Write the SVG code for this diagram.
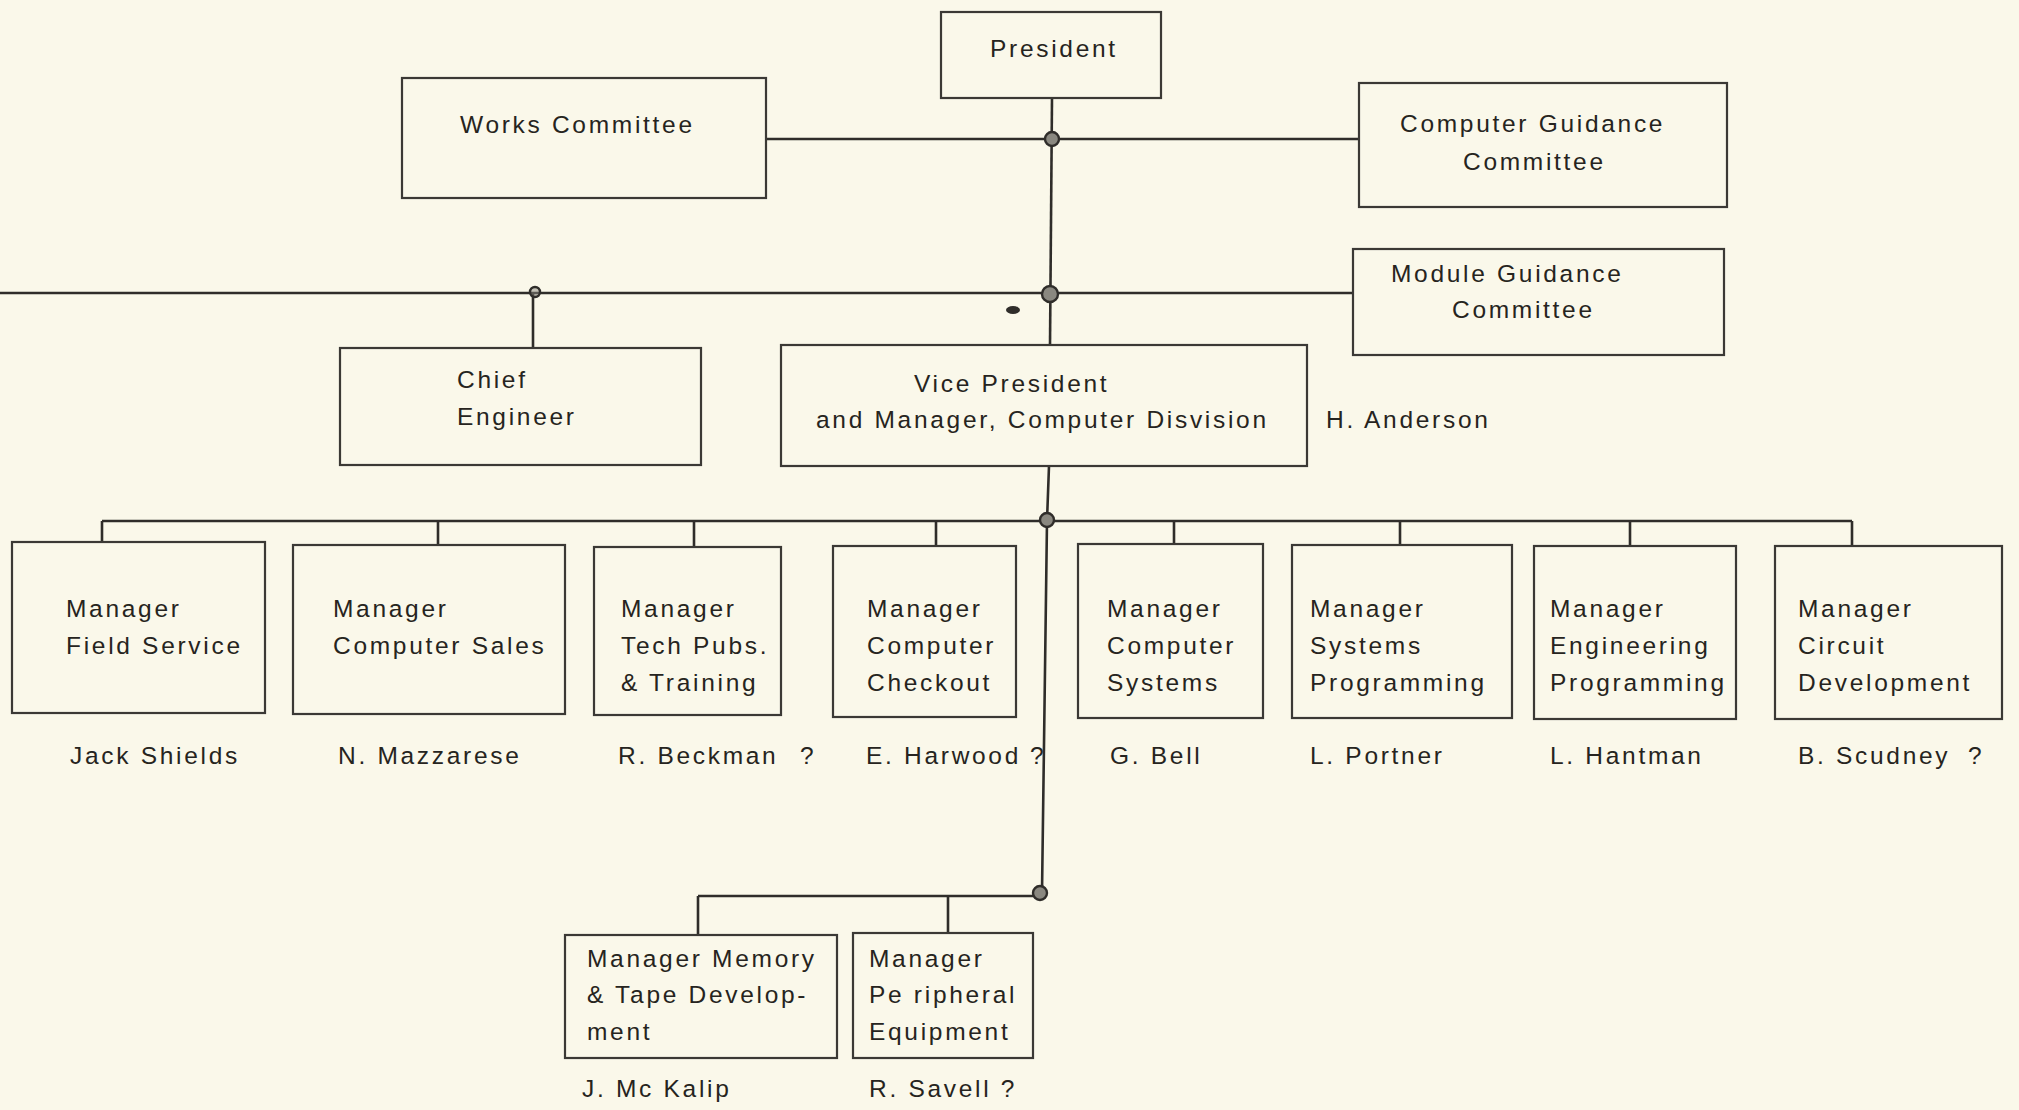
<svg xmlns="http://www.w3.org/2000/svg" width="2019" height="1110" viewBox="0 0 2019 1110">
<style>
.bg{fill:#faf8ea}
.box{fill:none;stroke:#3b3935;stroke-width:2.2}
.ln{fill:none;stroke:#2f2d2a;stroke-width:2.6}
.dot{fill:#8a8880;stroke:#2f2d2a;stroke-width:2.4}
text{font-family:"Liberation Sans",Arial,sans-serif;font-size:24.5px;letter-spacing:2.7px;fill:#262420}
</style>
<rect class="bg" x="0" y="0" width="2019" height="1110"/>
<g id="connectors">
<polyline class="ln" points="1052,98 1050,346"/>
<line class="ln" x1="766" y1="139" x2="1358" y2="139"/>
<line class="ln" x1="0" y1="293" x2="1352" y2="293"/>
<line class="ln" x1="533" y1="293" x2="533" y2="348"/>
<polyline class="ln" points="1049,466 1047,521 1042,893"/>
<line class="ln" x1="102" y1="521" x2="1852" y2="521"/>
<line class="ln" x1="102" y1="521" x2="102" y2="542"/>
<line class="ln" x1="438" y1="521" x2="438" y2="545"/>
<line class="ln" x1="694" y1="521" x2="694" y2="547"/>
<line class="ln" x1="936" y1="521" x2="936" y2="546"/>
<line class="ln" x1="1174" y1="521" x2="1174" y2="544"/>
<line class="ln" x1="1400" y1="521" x2="1400" y2="545"/>
<line class="ln" x1="1630" y1="521" x2="1630" y2="546"/>
<line class="ln" x1="1852" y1="521" x2="1852" y2="546"/>
<line class="ln" x1="698" y1="896" x2="1042" y2="896"/>
<line class="ln" x1="698" y1="896" x2="698" y2="935"/>
<line class="ln" x1="948" y1="896" x2="948" y2="933"/>
<circle class="dot" cx="1052" cy="139" r="7"/>
<circle class="dot" cx="1050" cy="294" r="8"/>
<circle class="dot" cx="535" cy="292" r="5" fill-opacity="0.5"/>
<circle class="dot" cx="1047" cy="520" r="7"/>
<circle class="dot" cx="1040" cy="893" r="7"/>
<ellipse cx="1013" cy="310" rx="7" ry="4" fill="#2f2d2a"/>
</g>
<g id="president"><rect class="box" x="941" y="12" width="220" height="86"/><text x="990" y="57">President</text></g>
<g id="works-committee"><rect class="box" x="402" y="78" width="364" height="120"/><text x="460" y="133">Works Committee</text></g>
<g id="computer-guidance"><rect class="box" x="1359" y="83" width="368" height="124"/><text x="1400" y="132">Computer Guidance</text><text x="1463" y="170">Committee</text></g>
<g id="module-guidance"><rect class="box" x="1353" y="249" width="371" height="106"/><text x="1391" y="282">Module Guidance</text><text x="1452" y="318">Committee</text></g>
<g id="chief-engineer"><rect class="box" x="340" y="348" width="361" height="117"/><text x="457" y="388">Chief</text><text x="457" y="425">Engineer</text></g>
<g id="vice-president"><rect class="box" x="781" y="345" width="526" height="121"/><text x="914" y="392">Vice  President</text><text x="816" y="428">and Manager, Computer Disvision</text></g>
<g id="h-anderson"><text x="1326" y="428">H. Anderson</text></g>
<g id="field-service"><rect class="box" x="12" y="542" width="253" height="171"/><text x="66" y="617">Manager</text><text x="66" y="654">Field Service</text><text x="70" y="764">Jack Shields</text></g>
<g id="computer-sales"><rect class="box" x="293" y="545" width="272" height="169"/><text x="333" y="617">Manager</text><text x="333" y="654">Computer Sales</text><text x="338" y="764">N. Mazzarese</text></g>
<g id="tech-pubs"><rect class="box" x="594" y="547" width="187" height="168"/><text x="621" y="617">Manager</text><text x="621" y="654">Tech Pubs.</text><text x="621" y="691">&amp; Training</text><text x="618" y="764">R. Beckman<tspan x="800">?</tspan></text></g>
<g id="computer-checkout"><rect class="box" x="833" y="546" width="183" height="171"/><text x="867" y="617">Manager</text><text x="867" y="654">Computer</text><text x="867" y="691">Checkout</text><text x="866" y="764">E. Harwood<tspan x="1030">?</tspan></text></g>
<g id="computer-systems"><rect class="box" x="1078" y="544" width="185" height="174"/><text x="1107" y="617">Manager</text><text x="1107" y="654">Computer</text><text x="1107" y="691">Systems</text><text x="1110" y="764">G. Bell</text></g>
<g id="systems-programming"><rect class="box" x="1292" y="545" width="220" height="173"/><text x="1310" y="617">Manager</text><text x="1310" y="654">Systems</text><text x="1310" y="691">Programming</text><text x="1310" y="764">L. Portner</text></g>
<g id="engineering-programming"><rect class="box" x="1534" y="546" width="202" height="173"/><text x="1550" y="617">Manager</text><text x="1550" y="654">Engineering</text><text x="1550" y="691">Programming</text><text x="1550" y="764">L. Hantman</text></g>
<g id="circuit-development"><rect class="box" x="1775" y="546" width="227" height="173"/><text x="1798" y="617">Manager</text><text x="1798" y="654">Circuit</text><text x="1798" y="691">Development</text><text x="1798" y="764">B. Scudney<tspan x="1968">?</tspan></text></g>
<g id="memory-tape"><rect class="box" x="565" y="935" width="272" height="123"/><text x="587" y="967">Manager Memory</text><text x="587" y="1003">&amp; Tape Develop-</text><text x="587" y="1040">ment</text><text x="582" y="1097">J. Mc Kalip</text></g>
<g id="peripheral"><rect class="box" x="853" y="933" width="180" height="125"/><text x="869" y="967">Manager</text><text x="869" y="1003">Pe ripheral</text><text x="869" y="1040">Equipment</text><text x="869" y="1097">R. Savell ?</text></g>
</svg>
